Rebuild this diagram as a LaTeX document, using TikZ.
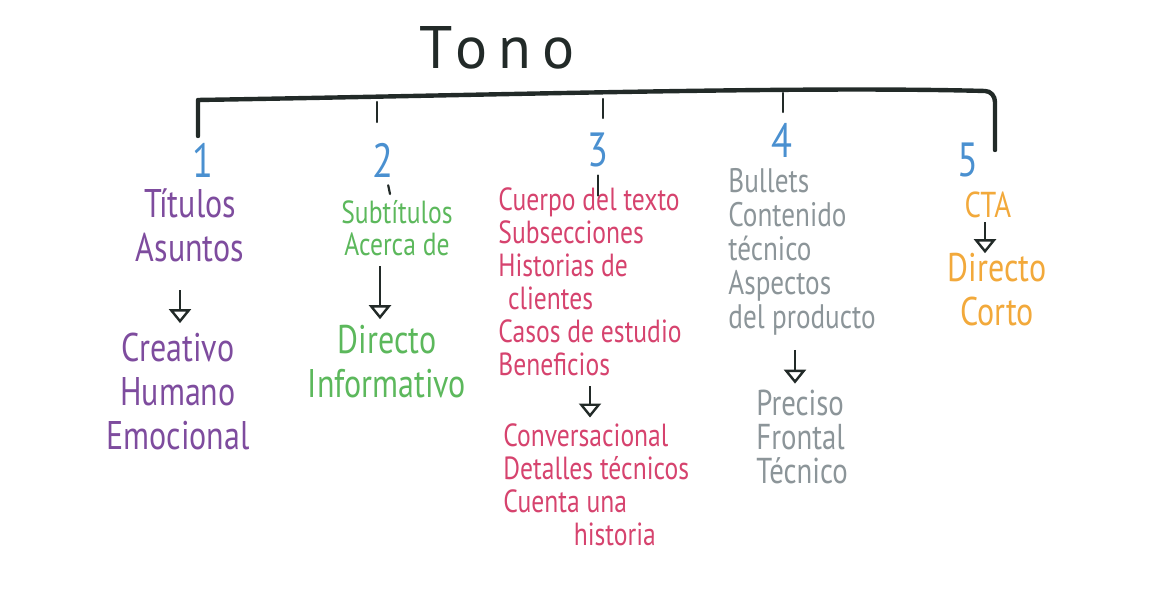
\documentclass[tikz,border=0pt]{standalone}
\usepackage{fontspec}
\setmainfont{PT Sans}[FakeStretch=0.8]
\newfontfamily\titulofont{PT Sans}[LetterSpace=18]
\usetikzlibrary{arrows.meta}
\definecolor{tinta}{HTML}{222A28}
\definecolor{azul}{HTML}{4A90D0}
\definecolor{morado}{HTML}{7E4C9E}
\definecolor{verde}{HTML}{5CB85C}
\definecolor{rojo}{HTML}{D6436E}
\definecolor{gris}{HTML}{8C9599}
\definecolor{naranja}{HTML}{F2A93B}
\begin{document}
\begin{tikzpicture}[x=0.5pt, y=-0.5pt, inner sep=0pt,
  barra/.style={tinta, line width=2.2pt, line cap=round, line join=round},
  marca/.style={tinta, line width=1.1pt, line cap=round},
  flecha/.style={tinta, line width=1.2pt, -{Triangle[open, width=11pt, length=7pt, line width=1.2pt]}},
  num/.style={azul, font=\fontsize{24}{24}\selectfont},
  grande/.style={font=\fontsize{20}{22}\selectfont, align=center},
  medio/.style={font=\fontsize{16}{16.5}\selectfont, align=left}]
\useasboundingbox (0,0) rectangle (1156,597);
\node[tinta, font=\titulofont\fontsize{30}{30}\selectfont] (tono) at (497,48) {Tono};
% barra principal
\draw[barra] (198,136) -- (198,100) .. controls (500,95) and (800,86) .. (985,91) to[out=0, in=90] (995,102) -- (995,150);
\draw[marca] (377,102) -- (377,122);
\draw[marca] (603,99) -- (603,118);
\draw[marca] (783,93) -- (783,112);
% numeros
\node[num] (n1) at (203,160) {1};
\node[num] (n2) at (383,160) {2};
\node[num] (n3) at (598,150) {3};
\node[num] (n4) at (782,140) {4};
\node[num] (n5) at (968,160) {5};
% columnas
\node[grande, morado] (titulos) at (190,225) {Títulos\\Asuntos};
\node[grande, morado] (creativo) at (178,392) {Creativo\\Humano\\Emocional};
\node[grande, verde, font=\fontsize{16}{16}\selectfont] (subtitulos) at (397,228) {Subtítulos\\Acerca de};
\node[grande, verde] (directo) at (387,362) {Directo\\Informativo};
\node[medio, rojo, anchor=west] (cuerpo) at (498,282) {Cuerpo del texto\\Subsecciones\\Historias de\\\hspace*{0.3em}clientes\\Casos de estudio\\Beneficios};
\node[medio, rojo, anchor=west] (conver) at (503,485) {Conversacional\\Detalles técnicos\\Cuenta una\\\hspace*{2.2em}historia};
\node[medio, gris, anchor=west, font=\fontsize{17}{17}\selectfont] (bullets) at (728,252) {Bullets\\Contenido\\técnico\\Aspectos\\del producto};
\node[medio, gris, anchor=west, font=\fontsize{18}{17}\selectfont] (preciso) at (756,437) {Preciso\\Frontal\\Técnico};
\node[grande, naranja, font=\fontsize{18}{18}\selectfont] (cta) at (988,205) {CTA};
\node[grande, naranja] (corto) at (997,290) {Directo\\Corto};
% uniones
\draw[marca, shorten <=4pt, shorten >=3pt] (n2) -- (subtitulos);
\draw[marca, shorten <=4pt, shorten >=-4pt] (n3) -- (cuerpo.north -| n3);
\coordinate (f1) at (180,0);
\coordinate (f2) at (380,0);
\coordinate (f3) at (590,0);
\coordinate (f4) at (795,0);
\coordinate (f5) at (985,0);
\draw[flecha, shorten <=14pt, shorten >=5pt] (titulos.south -| f1) -- (creativo.north -| f1);
\draw[flecha, shorten <=5pt, shorten >=3pt] (subtitulos.south -| f2) -- (directo.north -| f2);
\draw[flecha, shorten <=5pt, shorten >=3pt] (cuerpo.south -| f3) -- (conver.north -| f3);
\draw[flecha, shorten <=7pt, shorten >=3pt] (bullets.south -| f4) -- (preciso.north -| f4);
\draw[flecha, shorten <=2pt, shorten >=0pt] (cta.south -| f5) -- (corto.north -| f5);
\end{tikzpicture}
\end{document}
